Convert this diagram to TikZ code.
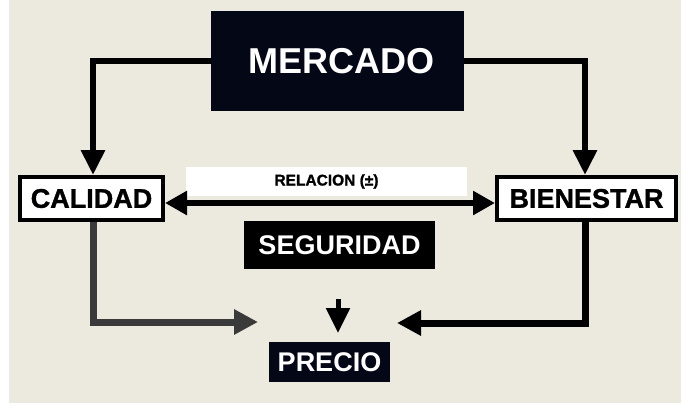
\documentclass[tikz,border=0pt]{standalone}
\usepackage{fontspec}
\setmainfont{Liberation Sans}
\newfontfamily\heavyfont[FakeBold=1.3]{Liberation Sans Bold}
\usetikzlibrary{arrows.meta,calc}
\definecolor{bg}{HTML}{ECE9DF}
\definecolor{navy}{HTML}{040816}
\definecolor{darkgray}{HTML}{3A3A3A}
\tikzset{
  darkbox/.style={fill=navy, text=white, inner sep=0pt, font=\bfseries\fontsize{27}{27}\selectfont},
  whitebox/.style={draw=black, line width=4pt, fill=white, text=black, inner sep=0pt, font=\heavyfont\fontsize{27}{27}\selectfont},
  conn/.style={line width=6pt, line join=miter, -{Triangle[length=25pt,width=23pt]}},
  connb/.style={line width=7pt, line join=miter, -{Triangle[length=24pt,width=24pt]}},
}
\begin{document}
\begin{tikzpicture}[x=1pt,y=-1pt]
\useasboundingbox (0,0) rectangle (685,405);
\fill[white] (0,0) rectangle (685,405);
\fill[bg] (9,0) rectangle (681,403);

\node[darkbox, minimum width=253pt, minimum height=100pt, font=\bfseries\fontsize{36}{36}\selectfont] (mercado) at (337.5,61) {\hspace*{8pt}MERCADO};
\node[whitebox, minimum width=143pt, minimum height=43pt] (calidad) at (91.5,198.5) {CALIDAD};
\node[whitebox, minimum width=179pt, minimum height=43pt] (bienestar) at (586.5,198.5) {BIENESTAR};
\node[fill=white, minimum width=281pt, minimum height=29pt, inner sep=0pt, font=\heavyfont\fontsize{15.5}{15.5}\selectfont] (relacion) at (326.5,181.5) {RELACION (±)};
\node[darkbox, fill=black, minimum width=191pt, minimum height=48pt] (seguridad) at (339.5,245) {SEGURIDAD};
\node[darkbox, minimum width=121pt, minimum height=40pt] (precio) at (329.5,362) {PRECIO};

\coordinate (lt) at (258,322);
\coordinate (rt) at (397,323);
\coordinate (sa) at (338,299);
\coordinate (sb) at (338,333);

\draw[conn] (mercado.west) -| ([xshift=1.5pt]calidad.north);
\draw[conn] (mercado.east) -| ([xshift=-1.5pt]bienestar.north);
\draw[line width=6pt, {Triangle[length=22pt,width=23pt]}-{Triangle[length=22pt,width=23pt]}]
  ([yshift=-4.5pt]calidad.east) -- ([yshift=-4.5pt]bienestar.west);
\draw[connb, draw=darkgray] ([xshift=1.5pt]calidad.south) |- (lt);
\draw[connb] ([xshift=-1.5pt]bienestar.south) |- (rt);
\draw[line width=5pt, -{Triangle[length=25pt,width=23pt]}] (sa) -- (sb);
\end{tikzpicture}
\end{document}
